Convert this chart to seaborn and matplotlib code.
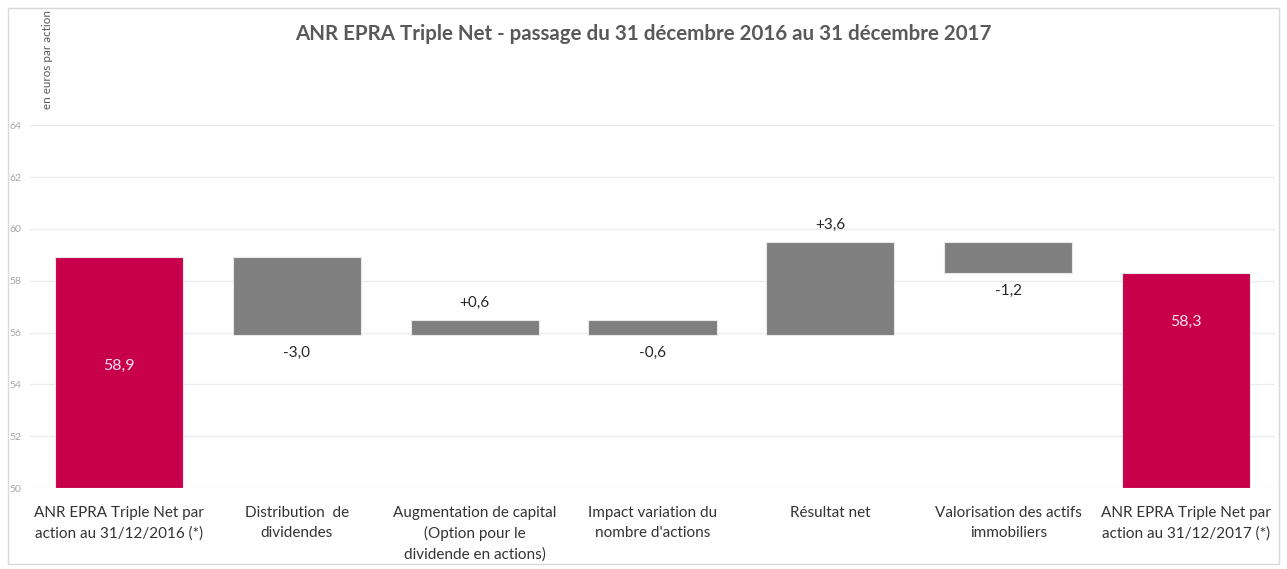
import numpy as np
import pandas as pd
import matplotlib
from matplotlib import pyplot as plt
from matplotlib.patches import Rectangle
import seaborn as sns

sns.set_style("white")
matplotlib.rcParams['font.family'] = ['Lato', 'DejaVu Sans']

# data
categories = [
    "ANR EPRA Triple Net par\naction au 31/12/2016 (*)",
    "Distribution  de\ndividendes",
    "Augmentation de capital\n(Option pour le\ndividende en actions)",
    "Impact variation du\nnombre d'actions",
    "Résultat net",
    "Valorisation des actifs\nimmobiliers",
    "ANR EPRA Triple Net par\naction au 31/12/2017 (*)",
]
start_value = 58.9
changes = [-3.0, 0.6, -0.6, 3.6, -1.2]
end_value = 58.3
y_ticks = [50, 52, 54, 56, 58, 60, 62, 64]

RED = "#c8004b"
GREY = "#7f7f7f"

# waterfall geometry from the values
levels = np.concatenate([[start_value], start_value + np.cumsum(changes)])
bottoms = [50.0]
heights = [start_value - 50.0]
for i, c in enumerate(changes):
    lo = min(levels[i], levels[i + 1])
    bottoms.append(lo)
    heights.append(abs(c))
bottoms.append(50.0)
heights.append(end_value - 50.0)

df = pd.DataFrame({"cat": categories, "height": heights, "bottom": bottoms})
colors = [RED] + [GREY] * len(changes) + [RED]

fig = plt.figure(figsize=(12.87, 5.69), dpi=100)
ax = fig.add_axes([0.0233, 0.142, 0.9674, 0.638])

sns.barplot(data=df, x="cat", y="height", color=GREY, bottom=df["bottom"].values,
            width=0.72, ax=ax, edgecolor="#e8e8e8", linewidth=0.8, saturation=1)
for p, col in zip(ax.patches, colors):
    p.set_facecolor(col)

ax.set_ylim(50, 64)
ax.set_xlim(-0.5, len(categories) - 0.5)
ax.set_yticks(y_ticks)
ax.set_yticklabels([str(t) for t in y_ticks], fontsize=7.5, color="#a6a6a6")
ax.tick_params(axis="y", length=0, pad=6)
ax.tick_params(axis="x", length=0, pad=13)
ax.set_xticks(range(len(categories)))
ax.set_xticklabels(categories, fontsize=11, color="#333333", linespacing=1.5, va="top")
ax.yaxis.grid(True, color="#ebebf0", linewidth=1)
ax.set_axisbelow(True)
for s in ax.spines.values():
    s.set_visible(False)
ax.set_xlabel("")
ax.set_ylabel("")

# value labels
ax.text(0, 54.7, f"{start_value:.1f}".replace(".", ","), ha="center", va="center",
        color="#fbe3ee", fontsize=11.5)
ax.text(6, end_value - 1.9, f"{end_value:.1f}".replace(".", ","), ha="center", va="center",
        color="#fbe3ee", fontsize=11.5)
for i, c in enumerate(changes):
    txt = f"{c:+.1f}".replace(".", ",")
    x = i + 1
    if c < 0:
        ax.annotate(txt, (x, bottoms[x]), xytext=(0, -13), textcoords="offset points",
                    ha="center", va="center", fontsize=11, color="#262626")
    else:
        ax.annotate(txt, (x, bottoms[x] + heights[x]), xytext=(0, 12), textcoords="offset points",
                    ha="center", va="center", fontsize=11, color="#262626")

fig.text(0.5, 0.94, "ANR EPRA Triple Net - passage du 31 décembre 2016 au 31 décembre 2017",
         ha="center", va="center", fontsize=14.8, fontweight="bold", color="#595959")
fig.text(0.037, 0.895, "en euros par action", rotation=90, ha="center", va="center",
         fontsize=8.4, color="#595959")

fig.patches.append(Rectangle((0.006, 0.008), 0.988, 0.978, transform=fig.transFigure,
                             fill=False, edgecolor="#d9d9d9", linewidth=1))

plt.savefig("out.png", dpi=100)
